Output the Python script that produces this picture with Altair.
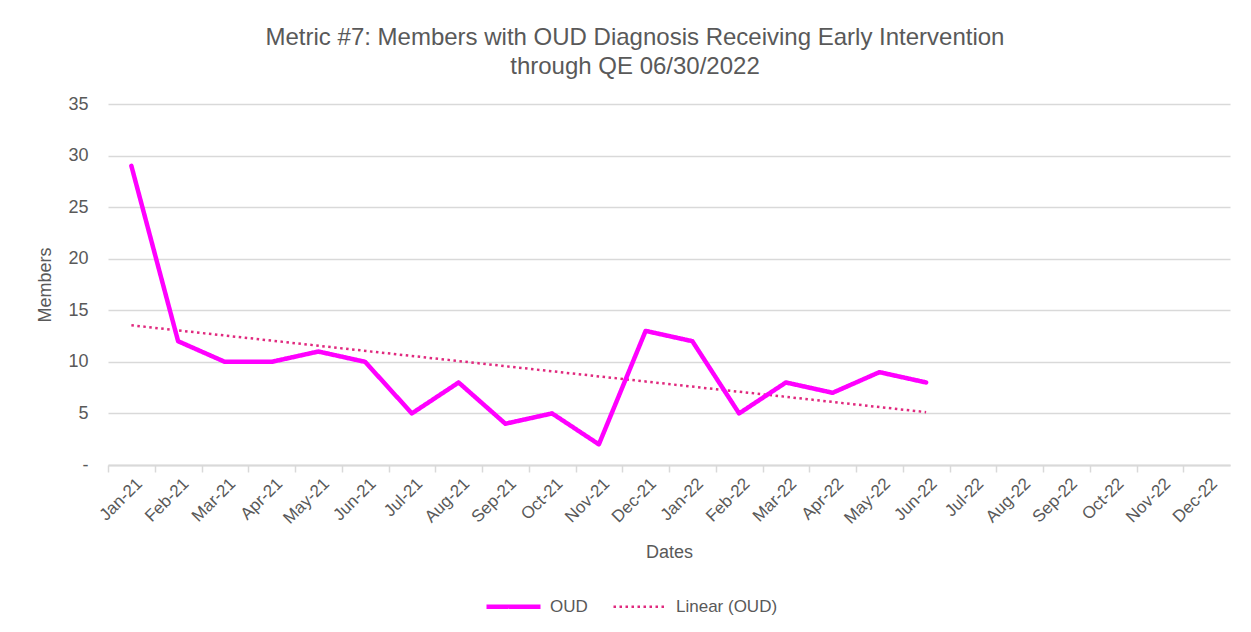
import altair as alt
import pandas as pd

months = ["Jan-21", "Feb-21", "Mar-21", "Apr-21", "May-21", "Jun-21", "Jul-21", "Aug-21",
          "Sep-21", "Oct-21", "Nov-21", "Dec-21", "Jan-22", "Feb-22", "Mar-22", "Apr-22",
          "May-22", "Jun-22", "Jul-22", "Aug-22", "Sep-22", "Oct-22", "Nov-22", "Dec-22"]
oud = [29, 12, 10, 10, 11, 10, 5, 8, 4, 5, 2, 13, 12, 5, 8, 7, 9, 8]
y_ticks = [0, 5, 10, 15, 20, 25, 30, 35]
series_names = ["OUD", "Linear (OUD)"]
series_colors = ["#FF00FF", "#E0297E"]

df = pd.DataFrame({"idx": list(range(len(oud))), "value": oud})

W, H = 1122, 361
half_band = W / len(months) / 2
gray = "#595959"
light = "#D9D9D9"
FONT = "Liberation Sans"

month_js = "[" + ",".join("'" + m + "'" for m in months) + "]"

x_enc = alt.X(
    "idx:Q",
    scale=alt.Scale(domain=[-0.5, len(months) - 0.5], nice=False, zero=False),
    axis=alt.Axis(
        values=list(range(len(months) + 1)),
        labelExpr=f"datum.value < {len(months)} ? {month_js}[datum.value] : ''",
        tickOffset=-half_band,
        labelOffset=half_band + 2,
        labelAngle=-45,
        labelAlign="right",
        labelBaseline="top",
        labelOverlap=False,
        labelFlush=False,
        labelFontSize=17,
        labelColor=gray,
        labelFont=FONT,
        labelPadding=3,
        grid=False,
        ticks=True,
        tickSize=7,
        tickColor=light,
        tickWidth=1.5,
        domain=True,
        domainColor=light,
        domainWidth=2,
        title="Dates",
        titleFont=FONT,
        titleFontSize=18,
        titleFontWeight="normal",
        titleColor=gray,
        titleX=W / 2,
        titleY=87,
        titleBaseline="middle",
        titleAlign="center",
    ),
)

y_enc = alt.Y(
    "value:Q",
    scale=alt.Scale(domain=[0, 35], nice=False),
    axis=alt.Axis(
        values=y_ticks,
        labelExpr="datum.value == 0 ? '-' : datum.label",
        labelFontSize=18,
        labelColor=gray,
        labelFont=FONT,
        labelPadding=20,
        ticks=False,
        domain=False,
        grid=True,
        gridColor=light,
        gridWidth=1.5,
        title="Members",
        titleFont=FONT,
        titleFontSize=18,
        titleFontWeight="normal",
        titleColor=gray,
        titleX=-63,
        titleY=H / 2,
        titleBaseline="middle",
        titleAlign="center",
        titleAngle=-90,
    ),
)

legend = alt.Legend(
    orient="none",
    legendX=376,
    legendY=473,
    direction="horizontal",
    symbolType="stroke",
    symbolSize=2916,
    symbolDash=alt.ExprRef(expr="datum.value == 'OUD' ? [1, 0] : [2.5, 3.5]"),
    symbolStrokeWidth=alt.ExprRef(expr="datum.value == 'OUD' ? 4.5 : 2.5"),
    labelFont=FONT,
    labelFontSize=17,
    labelColor=gray,
    labelOffset=7,
    columnPadding=20,
)

color_enc = alt.Color("series:N", title=None, legend=legend,
                      scale=alt.Scale(domain=series_names, range=series_colors))
dash_enc = alt.StrokeDash("series:N", legend=None,
                          scale=alt.Scale(domain=series_names, range=[[1, 0], [2.5, 3.5]]))
width_enc = alt.StrokeWidth("series:N", legend=None,
                            scale=alt.Scale(domain=series_names, range=[4.5, 2.5]))

line = alt.Chart(df).transform_calculate(series="'OUD'").mark_line(
    strokeCap="round", strokeJoin="round"
).encode(x=x_enc, y=y_enc, color=color_enc, strokeDash=dash_enc, strokeWidth=width_enc)

trend = alt.Chart(df).transform_regression("idx", "value", method="linear").transform_calculate(
    series="'Linear (OUD)'"
).mark_line(strokeCap="butt").encode(
    x=x_enc, y=y_enc, color=color_enc, strokeDash=dash_enc, strokeWidth=width_enc
)

chart = alt.layer(trend, line).properties(
    width=W,
    height=H,
    autosize=alt.AutoSizeParams(type="none"),
    padding={"left": 100, "top": 96, "right": 13, "bottom": 159},
    title=alt.TitleParams(
        text=["Metric #7: Members with OUD Diagnosis Receiving Early Intervention",
              "through QE 06/30/2022"],
        font=FONT,
        fontSize=24,
        fontWeight="normal",
        color=gray,
        anchor="middle",
        frame="group",
        offset=16,
        dx=-34,
        lineHeight=29,
    ),
).configure_view(stroke=None)

chart.save("out.html", embed_options={"renderer": "svg", "actions": False})
